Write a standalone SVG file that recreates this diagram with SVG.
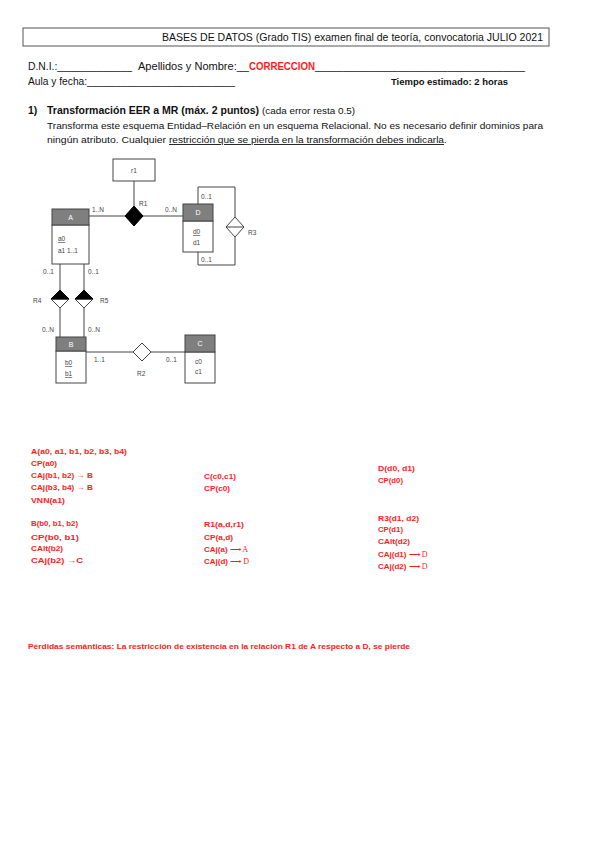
<svg xmlns="http://www.w3.org/2000/svg" width="599" height="848" viewBox="0 0 599 848">
<style>
.hd{font-family:"Liberation Sans",Arial,sans-serif;font-size:10.5px;fill:#111}
.tx{font-family:"Liberation Sans",Arial,sans-serif;font-size:9px;fill:#111}
.bd{font-weight:bold}
.red{font-family:"Liberation Sans",Arial,sans-serif;font-size:8px;font-weight:bold;fill:#ff1a1a}
.lb{font-family:"Liberation Sans",Arial,sans-serif;font-size:6.5px;fill:#444}
.ht{font-family:"Liberation Sans",Arial,sans-serif;font-size:7px;fill:#fff;text-anchor:middle}
.ln{stroke:#444;stroke-width:1;fill:none}
.box{fill:#fff;stroke:#444;stroke-width:1}
.hdr{fill:#7f7f7f;stroke:#444;stroke-width:1}
.serif{font-family:"Liberation Serif","Times New Roman",serif;font-weight:normal}
</style>
<rect width="599" height="848" fill="#fff"/>

<!-- header -->
<rect x="23" y="28" width="526" height="18" fill="#fff" stroke="#555" stroke-width="1"/>
<text class="hd" x="162" y="41" textLength="381" lengthAdjust="spacingAndGlyphs">BASES DE DATOS (Grado TIS) examen final de teoría, convocatoria JULIO 2021</text>
<text class="hd" x="28" y="70" textLength="104" lengthAdjust="spacingAndGlyphs">D.N.I.:_____________</text>
<text class="hd" x="138" y="70" textLength="111" lengthAdjust="spacingAndGlyphs">Apellidos y Nombre:__</text>
<text class="hd bd" x="249" y="70" fill="#ff1a1a" style="fill:#ff1a1a" textLength="66" lengthAdjust="spacingAndGlyphs">CORRECCION</text>
<text class="hd" x="315" y="70" textLength="210" lengthAdjust="spacingAndGlyphs">______________________________________</text>
<text class="hd" x="28" y="85" textLength="207" lengthAdjust="spacingAndGlyphs">Aula y fecha:__________________________</text>
<text class="tx bd" x="391" y="85" font-size="8.5" textLength="117" lengthAdjust="spacingAndGlyphs">Tiempo estimado: 2 horas</text>

<!-- section 1 -->
<text class="hd bd" x="28" y="114">1)</text>
<text class="hd bd" x="47" y="114" textLength="212" lengthAdjust="spacingAndGlyphs">Transformación EER a MR (máx. 2 puntos)</text>
<text class="tx" x="262" y="114" textLength="93" lengthAdjust="spacingAndGlyphs">(cada error resta 0.5)</text>
<text class="tx" x="47" y="129" textLength="496" lengthAdjust="spacingAndGlyphs">Transforma este esquema Entidad–Relación en un esquema Relacional. No es necesario definir dominios para</text>
<text class="tx" x="47" y="143" textLength="119" lengthAdjust="spacingAndGlyphs">ningún atributo. Cualquier</text>
<text class="tx" x="169" y="143" text-decoration="underline" textLength="275" lengthAdjust="spacingAndGlyphs">restricción que se pierda en la transformación debes indicarla</text>
<text class="tx" x="444" y="143">.</text>

<!-- connectors -->
<g id="connectors">
<line class="ln" x1="134" y1="181" x2="134" y2="206"/>
<line class="ln" x1="89" y1="216" x2="125" y2="216"/>
<line class="ln" x1="143" y1="216" x2="183" y2="216"/>
<polyline class="ln" points="198,204 198,187 235,187 235,217"/>
<polyline class="ln" points="235,237 235,265 198,265 198,252"/>
<line class="ln" x1="60" y1="264" x2="60" y2="290"/>
<line class="ln" x1="60" y1="308" x2="60" y2="337"/>
<line class="ln" x1="84" y1="264" x2="84" y2="290"/>
<line class="ln" x1="84" y1="308" x2="84" y2="337"/>
<line class="ln" x1="86" y1="352" x2="133" y2="352"/>
<line class="ln" x1="151" y1="352" x2="185" y2="352"/>
<text class="lb" x="92" y="212">1..N</text>
<text class="lb" x="165" y="212">0..N</text>
<text class="lb" x="201" y="199">0..1</text>
<text class="lb" x="201" y="262">0..1</text>
<text class="lb" x="43" y="274">0..1</text>
<text class="lb" x="88" y="274">0..1</text>
<text class="lb" x="42" y="332">0..N</text>
<text class="lb" x="88" y="332">0..N</text>
<text class="lb" x="94" y="362">1..1</text>
<text class="lb" x="166" y="362">0..1</text>
</g>

<!-- attribute box r1 -->
<g id="r1">
<rect class="box" x="113" y="159" width="42" height="22"/>
<text class="lb" x="134" y="173" text-anchor="middle" font-size="7.5">r1</text>
</g>

<!-- relationships -->
<g id="R1">
<polygon points="134,206 143,216 134,226 125,216" fill="#000" stroke="#000"/>
<text class="lb" x="139" y="206">R1</text>
</g>
<g id="R3">
<polygon points="235,217 244,227 235,237 226,227" fill="#fff" stroke="#444"/>
<line class="ln" x1="226" y1="227" x2="244" y2="227"/>
<text class="lb" x="248" y="235">R3</text>
</g>
<g id="R4">
<polygon points="60,299 69,299 60,308 51,299" fill="#fff" stroke="#444"/>
<polygon points="60,290 69,299 51,299" fill="#000" stroke="#000"/>
<text class="lb" x="33" y="303">R4</text>
</g>
<g id="R5">
<polygon points="84,299 93,299 84,308 75,299" fill="#fff" stroke="#444"/>
<polygon points="84,290 93,299 75,299" fill="#000" stroke="#000"/>
<text class="lb" x="100" y="303">R5</text>
</g>
<g id="R2">
<polygon points="142,343 151,352 142,361 133,352" fill="#fff" stroke="#444"/>
<text class="lb" x="137" y="376">R2</text>
</g>

<!-- entities -->
<g id="A">
<rect class="box" x="52" y="225" width="37" height="39"/>
<rect class="hdr" x="52" y="209" width="37" height="16"/>
<text class="ht" x="70.5" y="220">A</text>
<text class="lb" x="58" y="241" text-decoration="underline">a0</text>
<text class="lb" x="58" y="253">a1 1..1</text>
</g>
<g id="D">
<rect class="box" x="183" y="221" width="30" height="31"/>
<rect class="hdr" x="183" y="204" width="30" height="17"/>
<text class="ht" x="198" y="215">D</text>
<text class="lb" x="193" y="234" text-decoration="underline">d0</text>
<text class="lb" x="193" y="245">d1</text>
</g>
<g id="B">
<rect class="box" x="56" y="351" width="30" height="32"/>
<rect class="hdr" x="56" y="337" width="30" height="14"/>
<text class="ht" x="71" y="347">B</text>
<text class="lb" x="65" y="365" text-decoration="underline">b0</text>
<text class="lb" x="65" y="376" text-decoration="underline">b1</text>
</g>
<g id="C">
<rect class="box" x="185" y="352" width="30" height="31"/>
<rect class="hdr" x="185" y="335" width="30" height="17"/>
<text class="ht" x="200" y="346">C</text>
<text class="lb" x="195" y="364">c0</text>
<text class="lb" x="195" y="374">c1</text>
</g>

<!-- answer -->
<text class="red" x="31" y="454" textLength="96" lengthAdjust="spacingAndGlyphs">A(a0, a1, b1, b2, b3, b4)</text>
<text class="red" x="31" y="466" textLength="26" lengthAdjust="spacingAndGlyphs">CP(a0)</text>
<text class="red" x="31" y="478" textLength="62" lengthAdjust="spacingAndGlyphs">CAj(b1, b2) → B</text>
<text class="red" x="31" y="490" textLength="62" lengthAdjust="spacingAndGlyphs">CAj(b3, b4) → B</text>
<text class="red" x="31" y="503" textLength="34" lengthAdjust="spacingAndGlyphs">VNN(a1)</text>
<text class="red" x="31" y="526" textLength="47" lengthAdjust="spacingAndGlyphs">B(b0, b1, b2)</text>
<text class="red" x="31" y="540" textLength="48" lengthAdjust="spacingAndGlyphs">CP(b0, b1)</text>
<text class="red" x="31" y="551" textLength="32" lengthAdjust="spacingAndGlyphs">CAlt(b2)</text>
<text class="red" x="31" y="563" textLength="52" lengthAdjust="spacingAndGlyphs">CAj(b2) →C</text>

<text class="red" x="204" y="479" textLength="32" lengthAdjust="spacingAndGlyphs">C(c0,c1)</text>
<text class="red" x="204" y="491" textLength="26" lengthAdjust="spacingAndGlyphs">CP(c0)</text>
<text class="red" x="204" y="527" textLength="40" lengthAdjust="spacingAndGlyphs">R1(a,d,r1)</text>
<text class="red" x="204" y="540" textLength="29" lengthAdjust="spacingAndGlyphs">CP(a,d)</text>
<text class="red" x="204" y="552">CAj(a) <tspan class="serif">⟶ A</tspan></text>
<text class="red" x="204" y="564" font-size="9">CAj(d) <tspan class="serif">⟶ D</tspan></text>

<text class="red" x="378" y="471" textLength="37" lengthAdjust="spacingAndGlyphs">D(d0, d1)</text>
<text class="red" x="378" y="483" textLength="25" lengthAdjust="spacingAndGlyphs">CP(d0)</text>
<text class="red" x="378" y="521" textLength="41" lengthAdjust="spacingAndGlyphs">R3(d1, d2)</text>
<text class="red" x="378" y="532" textLength="25" lengthAdjust="spacingAndGlyphs">CP(d1)</text>
<text class="red" x="378" y="544" textLength="32" lengthAdjust="spacingAndGlyphs">CAlt(d2)</text>
<text class="red" x="378" y="557">CAj(d1) <tspan class="serif">⟶ D</tspan></text>
<text class="red" x="378" y="569">CAj(d2) <tspan class="serif">⟶ D</tspan></text>

<text class="red" x="28" y="649" font-size="7.5" textLength="382" lengthAdjust="spacingAndGlyphs">Pérdidas semánticas: La restricción de existencia en la relación R1 de A respecto a D, se pierde</text>
</svg>
